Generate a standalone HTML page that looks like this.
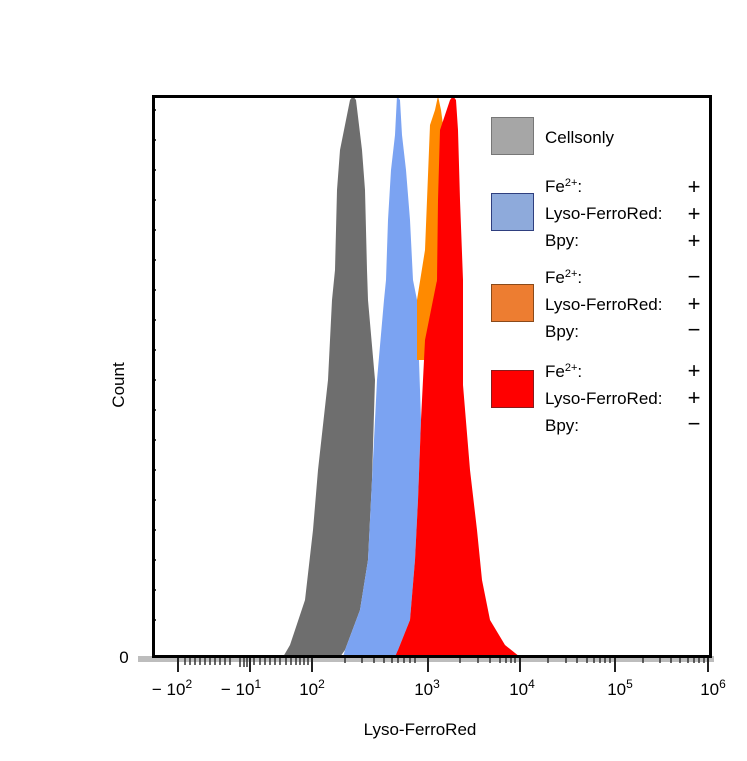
<!DOCTYPE html>
<html><head><meta charset="utf-8"><style>
body{margin:0;background:#fff;}
svg{display:block;font-family:"Liberation Sans",Arial,sans-serif;}
</style></head><body>
<svg width="747" height="761" viewBox="0 0 747 761">
<rect width="747" height="761" fill="#fff"/>
<rect x="138" y="656" width="576" height="6" fill="#bdbdbd"/>
<!-- gray -->
<polygon fill="#6e6e6e" points="283,657 290,645 305,600 313,530 318,470 328,380 332,300 335,270 337,190 340,150 350,100 353,96 356,100 362,150 365,190 367,270 368,300 375,380 372,480 368,560 360,610 345,650 340,657"/>
<!-- blue -->
<polygon fill="#7ba3f2" points="343,657 345,650 360,610 368,560 372,480 377,380 384,300 386,280 388,220 391,170 395,135 397,96 400,100 402,135 406,170 410,220 413,280 417,300 421,420 418,500 415,560 410,620 398,650 396,657"/>
<!-- orange -->
<polygon fill="#ff8a00" points="417,360 417,300 425,250 429,150 430,125 435,110 438,96 441,110 443,125 446,150 440,250 433,320 424,360"/>
<!-- red -->
<polygon fill="#ff0000" points="395,657 398,650 410,620 415,560 418,500 421,420 425,340 433,300 437,280 438,200 440,130 450,100 453,96 456,100 458,130 460,200 463,280 463,385 470,470 477,530 482,580 490,620 505,645 520,657"/>
<g stroke="#222" stroke-width="2">
<line x1="178" y1="657" x2="178" y2="672"/><line x1="250" y1="657" x2="250" y2="672"/>
<line x1="312" y1="657" x2="312" y2="672"/><line x1="428" y1="657" x2="428" y2="672"/>
<line x1="520" y1="657" x2="520" y2="672"/><line x1="615" y1="657" x2="615" y2="672"/>
<line x1="708" y1="657" x2="708" y2="672"/>
</g>
<g stroke="#333" stroke-width="1.5">
<path d="M185 657v8M190 657v8M195 657v8M200 657v8M205 657v8M210 657v8M215 657v8M220 657v8M225 657v8M230 657v8M240 657v10M244 657v10M247 657v10M254 657v8M260 657v8M265 657v8M270 657v8M275 657v8M280 657v8M286 657v8M291 657v8M296 657v8M300 657v8M304 657v8M308 657v8M345 657v6M362 657v6M374 657v6M384 657v6M392 657v6M398 657v6M404 657v6M410 657v6M415 657v6M460 657v6M478 657v6M490 657v6M500 657v6M506 657v6M511 657v6M515 657v6M548 657v6M566 657v6M577 657v6M587 657v6M594 657v6M600 657v6M605 657v6M610 657v6M643 657v6M660 657v6M671 657v6M680 657v6M688 657v6M694 657v6M699 657v6M704 657v6"/>
</g>
<rect x="153.5" y="96.5" width="557" height="560" fill="none" stroke="#000" stroke-width="3"/>
<g stroke="#000" stroke-width="1.5"><path d="M152 110h4M152 140h4M152 170h4M152 200h4M152 230h4M152 260h4M152 290h4M152 320h4M152 350h4M152 380h4M152 410h4M152 440h4M152 470h4M152 500h4M152 530h4M152 560h4M152 590h4M152 620h4"/></g>
<rect x="491.5" y="117.5" width="42" height="37" fill="#a6a6a6" stroke="#777"/>
<rect x="491.5" y="193.5" width="42" height="37" fill="#8eaadb" stroke="#2f3f7f"/>
<rect x="491.5" y="284.5" width="42" height="37" fill="#ed7d31" stroke="#8a4a1a"/>
<rect x="491.5" y="370.5" width="42" height="37" fill="#ff0000" stroke="#8a1a1a"/>
<g font-size="17" fill="#000">
<text x="545" y="143">Cellsonly</text>
<text x="545" y="192">Fe<tspan font-size="11" dy="-6">2+</tspan><tspan dy="6">:</tspan></text>
<text x="545" y="219">Lyso-FerroRed:</text>
<text x="545" y="246">Bpy:</text>
<text x="545" y="283">Fe<tspan font-size="11" dy="-6">2+</tspan><tspan dy="6">:</tspan></text>
<text x="545" y="310">Lyso-FerroRed:</text>
<text x="545" y="337">Bpy:</text>
<text x="545" y="377">Fe<tspan font-size="11" dy="-6">2+</tspan><tspan dy="6">:</tspan></text>
<text x="545" y="404">Lyso-FerroRed:</text>
<text x="545" y="431">Bpy:</text>
</g>
<g font-size="22" fill="#000" text-anchor="middle">
<text x="694" y="194">+</text><text x="694" y="221">+</text><text x="694" y="248">+</text>
<text x="694" y="284">−</text><text x="694" y="311">+</text><text x="694" y="337">−</text>
<text x="694" y="378">+</text><text x="694" y="405">+</text><text x="694" y="431">−</text>
</g>
<g font-size="17" fill="#000" text-anchor="middle">
<text x="124" y="663">0</text>
<text x="172" y="695">− 10<tspan font-size="12" dy="-7">2</tspan></text>
<text x="241" y="695">− 10<tspan font-size="12" dy="-7">1</tspan></text>
<text x="312" y="695">10<tspan font-size="12" dy="-7">2</tspan></text>
<text x="427" y="695">10<tspan font-size="12" dy="-7">3</tspan></text>
<text x="522" y="695">10<tspan font-size="12" dy="-7">4</tspan></text>
<text x="620" y="695">10<tspan font-size="12" dy="-7">5</tspan></text>
<text x="713" y="695">10<tspan font-size="12" dy="-7">6</tspan></text>
<text x="420" y="735">Lyso-FerroRed</text>
<text transform="translate(124,385) rotate(-90)">Count</text>
</g>
</svg>
</body></html>
